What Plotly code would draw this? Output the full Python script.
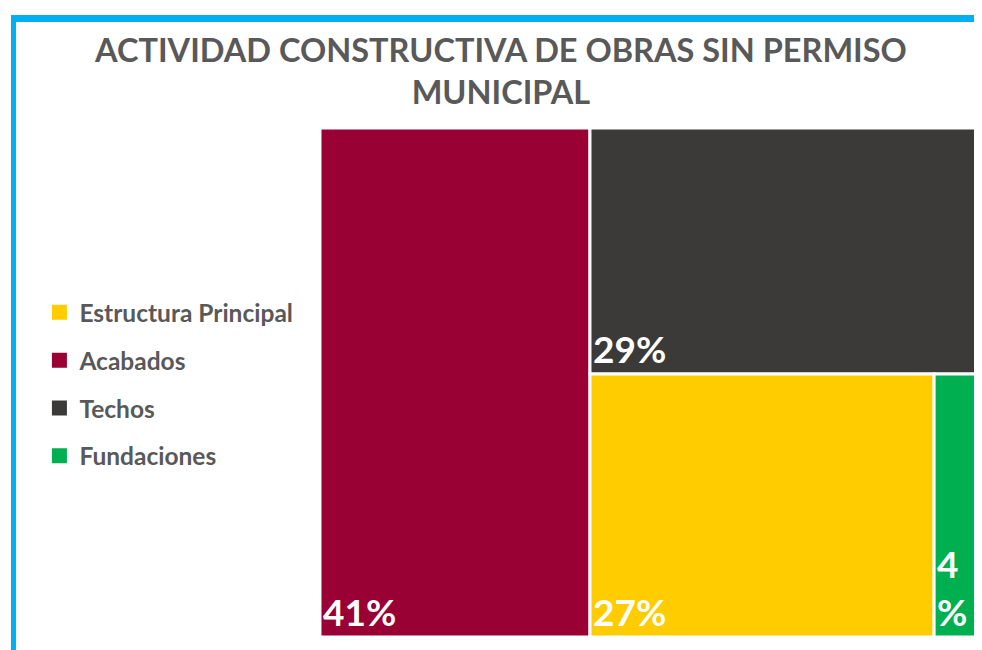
import plotly.graph_objects as go

categories = ["Acabados", "Techos", "Estructura Principal", "Fundaciones"]
values = [41, 29, 27, 4]
labels_text = ["41%", "29%", "27%", "4<br>%"]
colors = ["#990033", "#3B3A39", "#FFCC00", "#00B050"]
legend_order = ["Estructura Principal", "Acabados", "Techos", "Fundaciones"]

title_text = "ACTIVIDAD CONSTRUCTIVA DE OBRAS SIN PERMISO<br>MUNICIPAL"
FONT = "Lato"

fig = go.Figure()
fig.add_trace(go.Treemap(
    labels=categories,
    parents=[""] * len(categories),
    values=values,
    text=labels_text,
    textinfo="text",
    textposition="bottom left",
    textfont=dict(family=FONT, size=37, color="white", weight="bold"),
    marker=dict(colors=colors, line=dict(color="white", width=3), pad=dict(t=0, l=0, r=0, b=0)),
    tiling=dict(packing="squarify", pad=0),
    pathbar=dict(visible=False),
    sort=False,
    domain=dict(x=[0.3177, 0.995], y=[0.0323, 0.8154]),
    hoverinfo="label+value",
))

color_map = dict(zip(categories, colors))
for i, name in enumerate(legend_order):
    fig.add_trace(go.Scatter(
        x=[None], y=[None], mode="markers", name=name,
        marker=dict(symbol="square", size=15, color=color_map[name]),
        legendgroup=f"g{i}", showlegend=True,
    ))

fig.update_layout(
    width=982, height=650,
    margin=dict(l=0, r=0, t=0, b=0),
    paper_bgcolor="white", plot_bgcolor="white",
    xaxis=dict(visible=False), yaxis=dict(visible=False),
    title=dict(text=title_text, x=0.502, xanchor="center", y=0.917, yanchor="top",
               font=dict(family=FONT, size=32.5, color="#595959", weight="bold")),
    legend=dict(x=0.032, y=0.421, xanchor="left", yanchor="middle",
                font=dict(family=FONT, size=24.5, color="#595959", weight="bold"),
                tracegroupgap=13, itemwidth=30, bgcolor="rgba(0,0,0,0)"),
    shapes=[
        dict(type="rect", xref="paper", yref="paper", x0=0.003, x1=1.0, y0=1 - 14/650, y1=1 - 7/650,
             fillcolor="#00B0F0", line=dict(width=0), layer="above"),
        dict(type="rect", xref="paper", yref="paper", x0=3/982, x1=8/982, y0=0, y1=1 - 7/650,
             fillcolor="#00B0F0", line=dict(width=0), layer="above"),
        dict(type="line", xref="paper", yref="paper", x0=8/982, x1=1.0, y0=1 - 648/650, y1=1 - 648/650,
             line=dict(color="#BDE8F7", width=1.5), layer="above"),
    ],
)

fig.write_html("out.html")
